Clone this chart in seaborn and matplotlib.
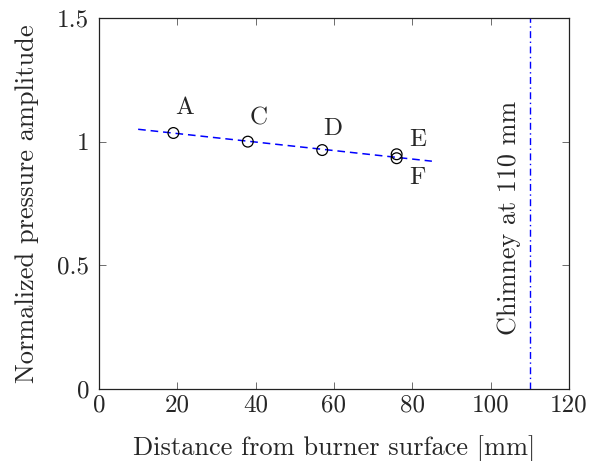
import matplotlib
matplotlib.use("Agg")
import matplotlib.pyplot as plt
import seaborn as sns
import pandas as pd
from matplotlib.ticker import FixedLocator, FuncFormatter

sns.set_theme(style="ticks")
plt.rcParams["font.family"] = ["cmr10", "DejaVu Serif"]
plt.rcParams["mathtext.fontset"] = "cm"
plt.rcParams["axes.unicode_minus"] = False
plt.rcParams["axes.formatter.use_mathtext"] = True

# Measurement locations and normalized amplitudes
labels = ["A", "C", "D", "E", "F"]
distance_mm = [19, 38, 57, 76, 76]
amplitude = [1.035, 1.0, 0.966, 0.949, 0.933]

# Linear trend through the points
trend_x = [10, 85]
trend_y = [1.05, 0.921]

chimney_mm = 110

x_ticks = [0, 20, 40, 60, 80, 100, 120]
y_ticks = [0, 0.5, 1, 1.5]

pts = pd.DataFrame({"x": distance_mm, "y": amplitude, "label": labels})
trend = pd.DataFrame({"x": trend_x, "y": trend_y})

FS = 18
LABEL_FS = 19

fig = plt.figure(figsize=(5.92, 4.61), dpi=100)
ax = fig.add_axes([0.1672, 0.1562, 0.7939, 0.8048])

sns.lineplot(data=trend, x="x", y="y", ax=ax, color="#0000ff",
             linestyle=(0, (5, 3.2)), linewidth=1.1)
sns.scatterplot(data=pts, x="x", y="y", ax=ax, marker="o",
                facecolor="none", edgecolor="black", s=60, linewidth=0.9,
                zorder=3)

ax.axvline(chimney_mm, color="#0000ff", linestyle=(0, (5, 2.5, 1, 2.5)),
           linewidth=1.0)

# point-label placement (offset points, horizontal alignment)
offsets = {"A": (7.9, 13.7, "center"), "C": (7.6, 12.0, "center"),
           "D": (7.9, 10.8, "center"), "E": (9.0, 6.2, "left"),
           "F": (9.0, -18.5, "left")}
for lab, xv, yv in zip(labels, distance_mm, amplitude):
    dx, dy, ha = offsets[lab]
    ax.annotate(lab, (xv, yv), xytext=(dx, dy), textcoords="offset points",
                ha=ha, va="baseline", fontsize=FS)

ax.text(104.6, 0.69, "Chimney at 110 mm", rotation=90, ha="center",
        va="center", fontsize=LABEL_FS - 0.2)

ax.set_xlim(0, 120)
ax.set_ylim(0, 1.5)
ax.xaxis.set_major_locator(FixedLocator(x_ticks))
ax.yaxis.set_major_locator(FixedLocator(y_ticks))
ax.yaxis.set_major_formatter(FuncFormatter(lambda v, p: f"{v:g}"))
ax.xaxis.set_major_formatter(FuncFormatter(lambda v, p: f"{v:g}"))
ax.tick_params(direction="in", top=True, right=True, length=5, width=0.6,
               color="#555555", labelsize=FS)
ax.tick_params(axis="x", pad=4)
ax.tick_params(axis="y", pad=7)
for s in ax.spines.values():
    s.set_visible(True)
    s.set_color("#222222")
    s.set_linewidth(0.9)

ax.set_xlabel("Distance from burner surface [mm]", fontsize=LABEL_FS)
ax.set_ylabel("Normalized pressure amplitude", fontsize=LABEL_FS)
ax.xaxis.set_label_coords(0.5, -0.125)
ax.yaxis.set_label_coords(-0.128, 0.5)

fig.savefig("out.png", dpi=100)
